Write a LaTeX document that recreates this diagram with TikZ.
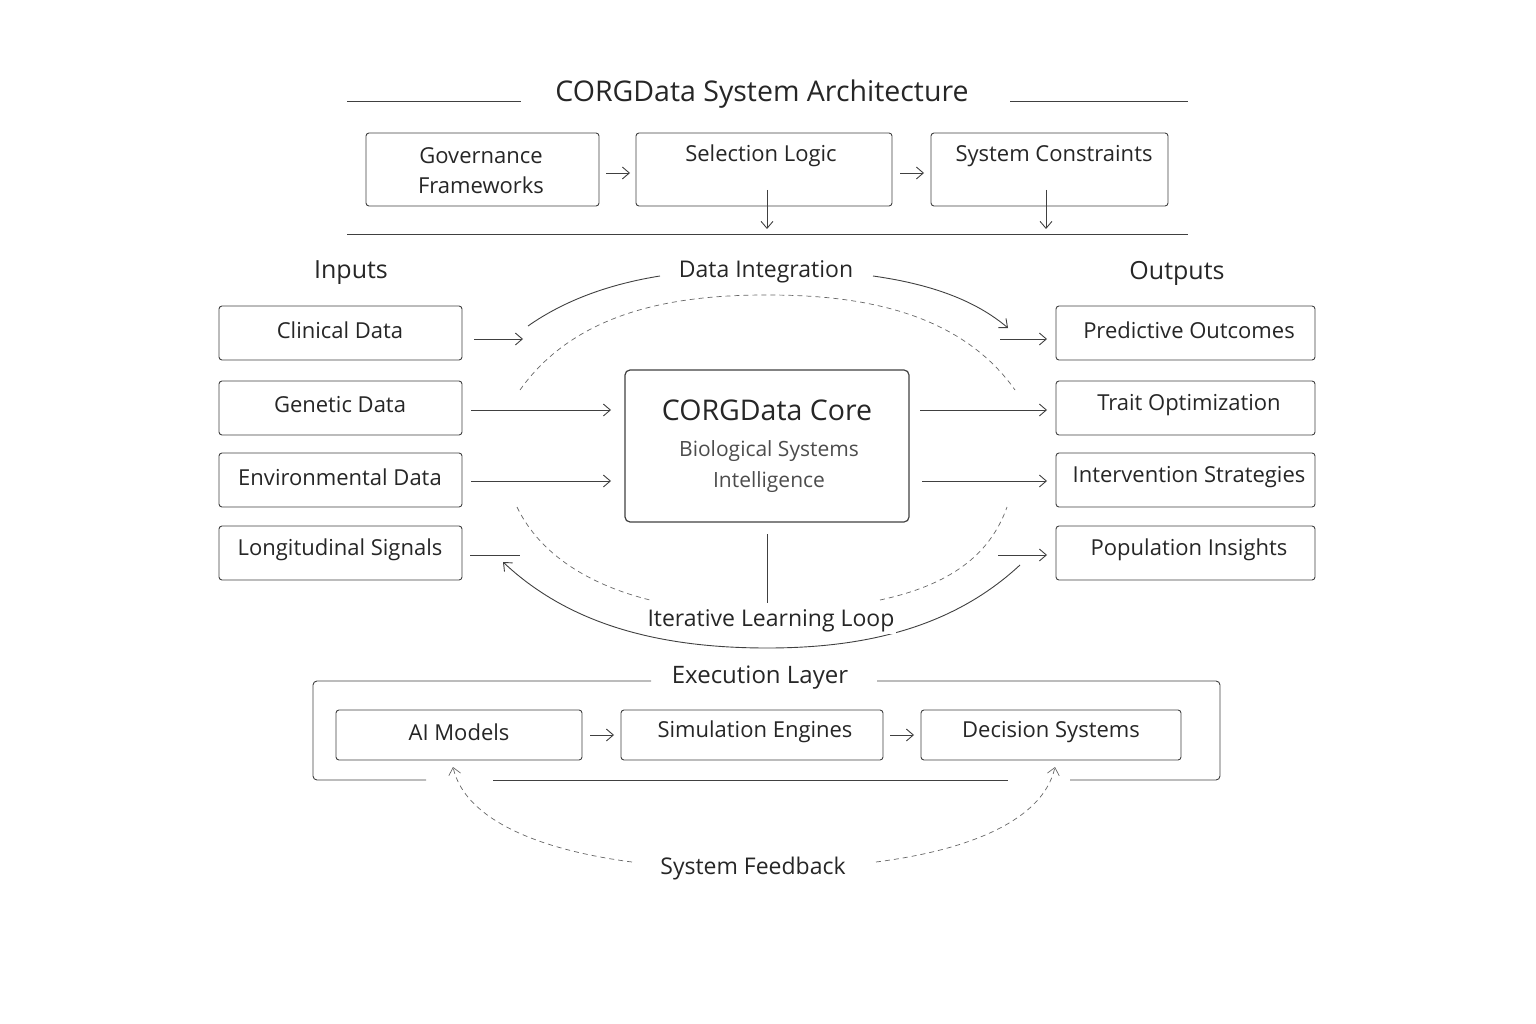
\documentclass[tikz,border=0pt]{standalone}
\usepackage{fontspec}
\setmainfont{Open Sans}
\usetikzlibrary{arrows.meta}
\begin{document}
\begin{tikzpicture}[x=1pt,y=-1pt,
  ln/.style={draw=black!75,line width=0.9pt},
  box/.style={ln,rounded corners=3pt,fill=white},
  arr/.style={ln,-{Straight Barb[length=7pt,width=12pt]}},
  dsh/.style={draw=black!60,line width=0.7pt,dash pattern=on 5pt off 4pt},
  t/.style={font=\fontsize{22}{30}\selectfont,text=black!85,align=center},
  lab/.style={font=\fontsize{25}{28}\selectfont,text=black!85}]
\useasboundingbox (0,0) rectangle (1536,1024);
\node[font=\fontsize{28.5}{32}\selectfont,text=black!85] (title) at (762,94) {CORGData System Architecture};
\draw[ln] (347,101) coordinate(l1) -- (521,101) coordinate(l2);
\draw[ln] (1010,101) coordinate(l3) -- (1188,101) coordinate(l4);
\draw[ln] (347,234) coordinate(h1) -- (1188,234) coordinate(h2);
% top boxes
\draw[box] (366,133) rectangle (599,206); \node[t] (gov) at (481,171) {Governance\\Frameworks};
\draw[box] (636,133) rectangle (892,206); \node[t] (sel) at (761,156) {Selection Logic};
\draw[box] (931,133) rectangle (1168,206); \node[t] (con) at (1054,156) {System Constraints};
\coordinate (a1) at (606,173); \coordinate (a2) at (630,173);
\coordinate (a3) at (900,173); \coordinate (a4) at (924,173);
\draw[arr] (a1) -- (a2); \draw[arr] (a3) -- (a4);
\coordinate (d1) at (767,190); \coordinate (d2) at (767,229);
\coordinate (d3) at (1046,190); \coordinate (d4) at (1046,229);
\draw[arr] (d1) -- (d2); \draw[arr] (d3) -- (d4);
% labels
\node[lab] (inp) at (351,273) {Inputs};
\node[lab] (outp) at (1177,273) {Outputs};
% input boxes
\foreach \n/\y/\s in {cl/306/Clinical Data,ge/381/Genetic Data,en/453/Environmental Data,lo/526/Longitudinal Signals}{
  \draw[box] (219,\y) rectangle (462,\y+54);
  \node[t] (\n) at (340,\y+24) {\s};}
\foreach \n/\y/\s in {po/306/Predictive Outcomes,tr/381/Trait Optimization,iv/453/Intervention Strategies,pi/526/Population Insights}{
  \draw[box] (1056,\y) rectangle (1315,\y+54);
  \node[t] (\n) at (1189,\y+24) {\s};}
% core
\draw[ln,line width=1.2pt,rounded corners=5pt] (625,370) rectangle (909,522);
\node[font=\fontsize{28.5}{32}\selectfont,text=black!85] (core) at (767,410) {CORGData Core};
\node[t,text=black!70,font=\fontsize{21}{31}\selectfont] (sub) at (769,467) {Biological Systems\\Intelligence};
% arrows in/out
\coordinate (c1) at (474,339); \coordinate (c2) at (523,339);
\draw[arr] (c1) -- (c2);
\coordinate (g1) at (471,410); \coordinate (g2) at (611,410); \draw[arr] (g1) -- (g2);
\coordinate (e1) at (471,481); \coordinate (e2) at (611,481); \draw[arr] (e1) -- (e2);
\coordinate (s1) at (470,555); \coordinate (s2) at (520,555); \draw[ln] (s1) -- (s2);
\coordinate (o1) at (920,410); \coordinate (o2) at (1047,410); \draw[arr] (o1) -- (o2);
\coordinate (o3) at (922,481); \coordinate (o4) at (1047,481); \draw[arr] (o3) -- (o4);
\coordinate (o5) at (1000,339); \coordinate (o6) at (1047,339); \draw[arr] (o5) -- (o6);
\coordinate (o7) at (998,555); \coordinate (o8) at (1047,555); \draw[arr] (o7) -- (o8);
% data integration
\node[lab,font=\fontsize{23}{26}\selectfont] (di) at (766,272) {Data Integration};
\coordinate (p1) at (528,326); \coordinate (p2) at (660,276);
\coordinate (p3) at (873,276); \coordinate (p4) at (1008,328);
\draw[ln] (p1) .. controls (565,300) and (610,284) .. (p2);
\draw[arr] (p3) .. controls (930,284) and (975,300) .. (p4);
% dashed arcs
\coordinate (q1) at (520,390); \coordinate (q2) at (1015,390);
\draw[dsh] (q1) .. controls (580,305) and (690,295) .. (767,295) .. controls (844,295) and (955,305) .. (q2);
\coordinate (r1) at (517,507); \coordinate (r2) at (650,600);
\coordinate (r3) at (880,600); \coordinate (r4) at (1007,507);
\draw[dsh] (r1) .. controls (540,555) and (590,585) .. (r2);
\draw[dsh] (r3) .. controls (950,585) and (990,555) .. (r4);
\coordinate (v1) at (767,534); \coordinate (v2) at (767,603);
\draw[ln] (v1) -- (v2);
% learning loop
\coordinate (u1) at (1020,565); \coordinate (u2) at (503,562);
\draw[arr] (u1) .. controls (950,630) and (860,648) .. (767,648) .. controls (660,648) and (570,625) .. (u2);
\node[lab,font=\fontsize{23}{26}\selectfont,fill=white,inner sep=2pt] (ill) at (771,621) {Iterative Learning Loop};
% execution layer
\draw[ln,rounded corners=4pt] (651,681) -- (313,681) -- (313,780) -- (426,780);
\draw[ln] (493,780) -- (1008,780);
\draw[ln,rounded corners=4pt] (1070,780) -- (1220,780) -- (1220,681) -- (877,681);
\node[lab,font=\fontsize{24}{27}\selectfont] (ex) at (760,678) {Execution Layer};
\draw[box] (336,710) rectangle (582,760); \node[t] (ai) at (459,732) {AI Models};
\draw[box] (621,710) rectangle (883,760); \node[t] (sim) at (755,732) {Simulation Engines};
\draw[box] (921,710) rectangle (1181,760); \node[t] (dec) at (1051,732) {Decision Systems};
\coordinate (b1) at (590,735); \coordinate (b2) at (614,735); \draw[arr] (b1) -- (b2);
\coordinate (b3) at (890,735); \coordinate (b4) at (914,735); \draw[arr] (b3) -- (b4);
% feedback
\node[lab,font=\fontsize{23}{26}\selectfont] (fb) at (753,869) {System Feedback};
\coordinate (f1) at (632,862); \coordinate (f2) at (453,767);
\coordinate (f3) at (876,862); \coordinate (f4) at (1055,767);
\draw[dsh,-{Straight Barb[length=7pt,width=12pt]}] (f1) .. controls (540,850) and (465,820) .. (f2);
\draw[dsh,-{Straight Barb[length=7pt,width=12pt]}] (f3) .. controls (970,850) and (1043,820) .. (f4);
\end{tikzpicture}
\end{document}
